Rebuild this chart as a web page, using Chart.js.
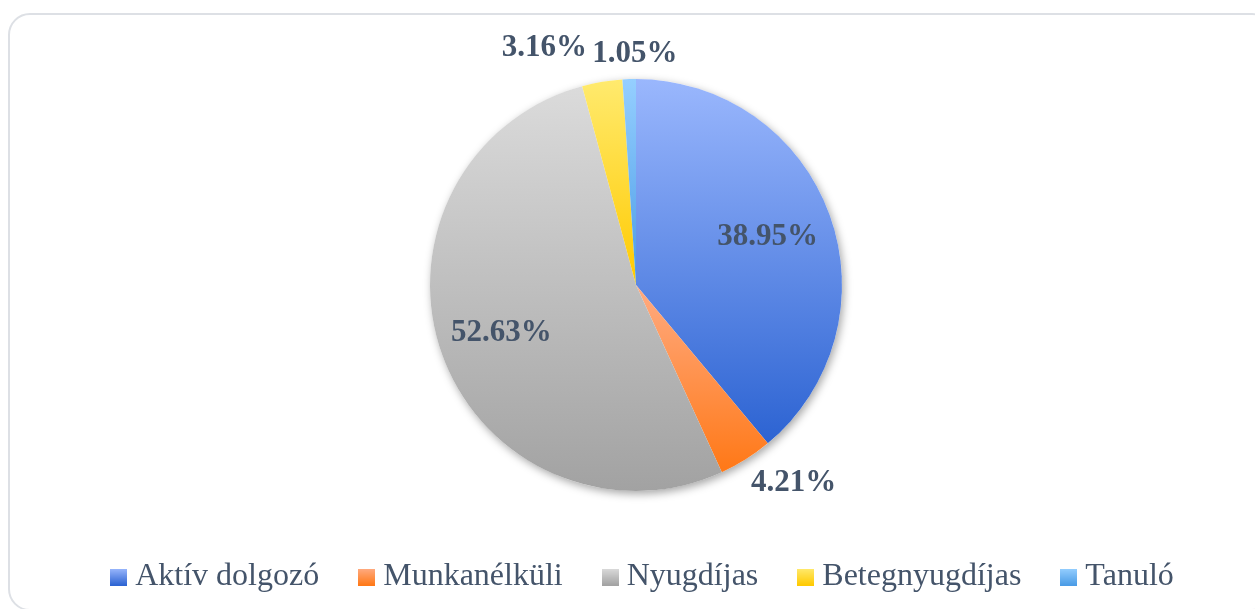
<!DOCTYPE html>
<html>
<head>
<meta charset="utf-8">
<script src="https://cdn.jsdelivr.net/npm/chart.js@4"></script>
<style>
  html, body { margin: 0; padding: 0; width: 1255px; height: 609px; overflow: hidden; background: #fff; }
  .frame { position: absolute; left: 8px; top: 13px; width: 1262px; height: 594px; border: 2px solid #dde0e5; border-radius: 22px; }
  .wrap { position: absolute; left: 0; top: 0; width: 1255px; height: 609px; }
</style>
</head>
<body>
<div class="frame"></div>
<div class="wrap"><canvas id="pieChart"></canvas></div>
<script>
// Data
const categories = ["Aktív dolgozó", "Munkanélküli", "Nyugdíjas", "Betegnyugdíjas", "Tanuló"];
const shares = [38.95, 4.21, 52.63, 3.16, 1.05];

// gradient stops per slice, top -> bottom
const sliceTop = ["#9ab7fd", "#ffab82", "#dbdbdb", "#ffea6e", "#95cfff"];
const sliceBottom = ["#2c63d2", "#ff7816", "#a2a2a2", "#ffca00", "#4a9be6"];

// label placement (style only)
const labelInside = [true, false, true, false, false];
const labelNudge = [[0, 0], [0, 0], [-3, 0], [-56, -8], [6, 0]];

const textColor = "#44546a";
const serif = "'Liberation Serif', 'Times New Roman', serif";

// small gradient squares for the legend
const legendIcons = sliceTop.map((c, i) => {
  const cv = document.createElement("canvas");
  cv.width = 17; cv.height = 17;
  const g = cv.getContext("2d");
  const gr = g.createLinearGradient(0, 0, 0, 17);
  gr.addColorStop(0, c);
  gr.addColorStop(1, sliceBottom[i]);
  g.fillStyle = gr;
  g.fillRect(0, 0, 17, 17);
  return cv;
});

// vertical gradient over each slice's own bounding box
function sliceFill(context) {
  const chart = context.chart;
  const area = chart.chartArea;
  const i = context.dataIndex;
  if (!area) return sliceTop[i];
  const ctrl = chart.getDatasetMeta(0).controller;
  const R = ctrl.outerRadius || 200;
  const cy = (area.top + area.bottom) / 2;
  const data = context.dataset.data;
  const total = data.reduce((a, b) => a + b, 0);
  let before = 0;
  for (let k = 0; k < i; k++) before += data[k];
  const a0 = -Math.PI / 2 + 2 * Math.PI * before / total;
  const a1 = a0 + 2 * Math.PI * data[i] / total;
  const ys = [cy, cy + R * Math.sin(a0), cy + R * Math.sin(a1)];
  [Math.PI / 2, -Math.PI / 2, 3 * Math.PI / 2].forEach(a => {
    if (a >= a0 && a <= a1) ys.push(cy + R * Math.sin(a));
  });
  const y0 = Math.min(...ys), y1 = Math.max(...ys);
  const gr = chart.ctx.createLinearGradient(0, y0, 0, y1);
  gr.addColorStop(0, sliceTop[i]);
  gr.addColorStop(1, sliceBottom[i]);
  return gr;
}

// nudge the legend a bit right of the pie's centre line
const legendShift = {
  id: "legendShift",
  afterLayout(chart) {
    if (!chart.legend) return;
    chart.legend.left += 10;
    chart.legend.right += 10;
  }
};

// soft shadow under the pie
const pieShadow = {
  id: "pieShadow",
  beforeDatasetsDraw(chart) {
    const arc = chart.getDatasetMeta(0).data[0];
    if (!arc) return;
    const ctx = chart.ctx;
    ctx.save();
    ctx.shadowColor = "rgba(0,0,0,0.35)";
    ctx.shadowBlur = 8;
    ctx.shadowOffsetX = 2;
    ctx.shadowOffsetY = 3;
    ctx.fillStyle = "#fff";
    ctx.beginPath();
    ctx.arc(arc.x, arc.y, arc.outerRadius, 0, Math.PI * 2);
    ctx.fill();
    ctx.restore();
  }
};

// percentage labels
const pieLabels = {
  id: "pieLabels",
  afterDatasetsDraw(chart) {
    const ctx = chart.ctx;
    const meta = chart.getDatasetMeta(0);
    ctx.save();
    ctx.font = "bold 31px " + serif;
    ctx.fillStyle = textColor;
    meta.data.forEach((arc, i) => {
      const mid = (arc.startAngle + arc.endAngle) / 2;
      const cos = Math.cos(mid), sin = Math.sin(mid);
      let x, y;
      if (labelInside[i]) {
        x = arc.x + arc.outerRadius * 0.68 * cos;
        y = arc.y + arc.outerRadius * 0.68 * sin;
        ctx.textAlign = "center";
        ctx.textBaseline = "middle";
      } else {
        x = arc.x + (arc.outerRadius + 10) * cos;
        y = arc.y + (arc.outerRadius + 10) * sin;
        ctx.textAlign = cos > 0.3 ? "left" : (cos < -0.3 ? "right" : "center");
        ctx.textBaseline = sin > 0 ? "top" : "bottom";
      }
      x += labelNudge[i][0];
      y += labelNudge[i][1];
      ctx.fillText(shares[i].toFixed(2) + "%", x, y);
    });
    ctx.restore();
  }
};

new Chart(document.getElementById("pieChart"), {
  type: "pie",
  data: {
    labels: categories,
    datasets: [{
      data: shares,
      backgroundColor: sliceFill,
      borderWidth: 0,
      radius: 206
    }]
  },
  options: {
    responsive: true,
    maintainAspectRatio: false,
    animation: false,
    layout: { padding: { left: 17, right: 0, top: 56, bottom: 6 } },
    plugins: {
      tooltip: { enabled: false },
      legend: {
        position: "bottom",
        labels: {
          usePointStyle: true,
          boxWidth: 1,
          boxHeight: 17,
          padding: 47,
          color: textColor,
          font: { family: serif, size: 32 },
          generateLabels(chart) {
            return categories.map((c, i) => ({
              text: c,
              pointStyle: legendIcons[i],
              fillStyle: sliceTop[i],
              strokeStyle: "transparent",
              fontColor: textColor,
              lineWidth: 0,
              hidden: false,
              index: i
            }));
          }
        }
      }
    }
  },
  plugins: [legendShift, pieShadow, pieLabels]
});
</script>
</body>
</html>
